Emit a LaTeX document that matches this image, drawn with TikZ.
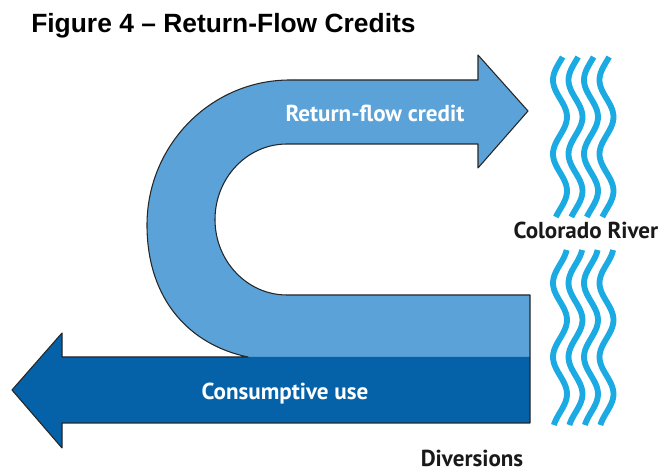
\documentclass[tikz,border=0pt]{standalone}
\usepackage{fontspec}
\setmainfont{Liberation Sans}
\newfontfamily\labelfont{PT Sans}
\usepackage{xcolor}
\usepackage{tikz}
\usetikzlibrary{arrows, arrows.meta}
\definecolor{lightflow}{HTML}{5AA2D8}
\definecolor{darkflow}{HTML}{0562A8}
\definecolor{river}{HTML}{1BAAE2}
\tikzstyle{outline}=[draw=black!85, line width=0.8pt, line join=round]
\tikzstyle{wave}=[draw=river, line width=4.4pt]
\tikzset{
    flowlabel/.style={anchor=base, inner sep=0pt, text=white,
        font=\labelfont\bfseries\fontsize{17.3}{20}\selectfont},
    placelabel/.style={anchor=base, inner sep=0pt, text=black!90,
        font=\labelfont\bfseries\fontsize{17.3}{20}\selectfont}
}

\begin{document}
\begin{tikzpicture}[x=0.75pt, y=-0.75pt]
  \useasboundingbox (0,0) rectangle (665,473);

  \node (title) [anchor=base west, inner sep=0pt, font=\bfseries\fontsize{19.8}{22}\selectfont] at (31,33) {Figure 4 \textendash{} Return-Flow Credits};

  %%%%%%%% return flow (light) %%%%%%%%
  \fill[lightflow] (528,111) -- (478,55) -- (478,80) -- (290,80)
      .. controls (211,80) and (147,145) .. (147,225)
      .. controls (147,300) and (190,345) .. (248,357)
      -- (530,357) -- (530,295) -- (287,295)
      .. controls (247,295) and (215,261) .. (215,219.5)
      .. controls (215,178) and (247,144) .. (287,144)
      -- (478,144) -- (478,168) -- cycle;

  %%%%%%%% consumptive use (dark) %%%%%%%%
  \fill[darkflow] (12,390) -- (62,333) -- (62,357) -- (530,357)
      -- (530,423) -- (62,423) -- (62,448) -- cycle;

  % one outline round both, no line between the two blues
  \draw[outline] (528,111) -- (478,55) -- (478,80) -- (290,80)
      .. controls (211,80) and (147,145) .. (147,225)
      .. controls (147,300) and (190,345) .. (248,357)
      -- (62,357) -- (62,333) -- (12,390) -- (62,448) -- (62,423)
      -- (530,423) -- (530,295) -- (287,295)
      .. controls (247,295) and (215,261) .. (215,219.5)
      .. controls (215,178) and (247,144) .. (287,144)
      -- (478,144) -- (478,168) -- cycle;

  \node (credit) [flowlabel] at (375,122) {Return-flow credit};
  \node (consume) [flowlabel] at (285,400) {Consumptive use};

  %%%%%%%% river %%%%%%%%
  % period 74px -> 4.865 degrees per px
  \foreach \cx in {560,575.5,591,606.5}{
    \draw[wave] plot[domain=57:217, samples=60, smooth, variable=\t] ({\cx-7*cos(4.865*(\t-80))}, \t);
    \draw[wave] plot[domain=250:425, samples=60, smooth, variable=\t] ({\cx-7*cos(4.865*(\t-283))}, \t);
  }
  \node (river) [placelabel] at (586,239) {Colorado River};
  \node (divert) [placelabel] at (472,467) {Diversions};
\end{tikzpicture}
\end{document}
